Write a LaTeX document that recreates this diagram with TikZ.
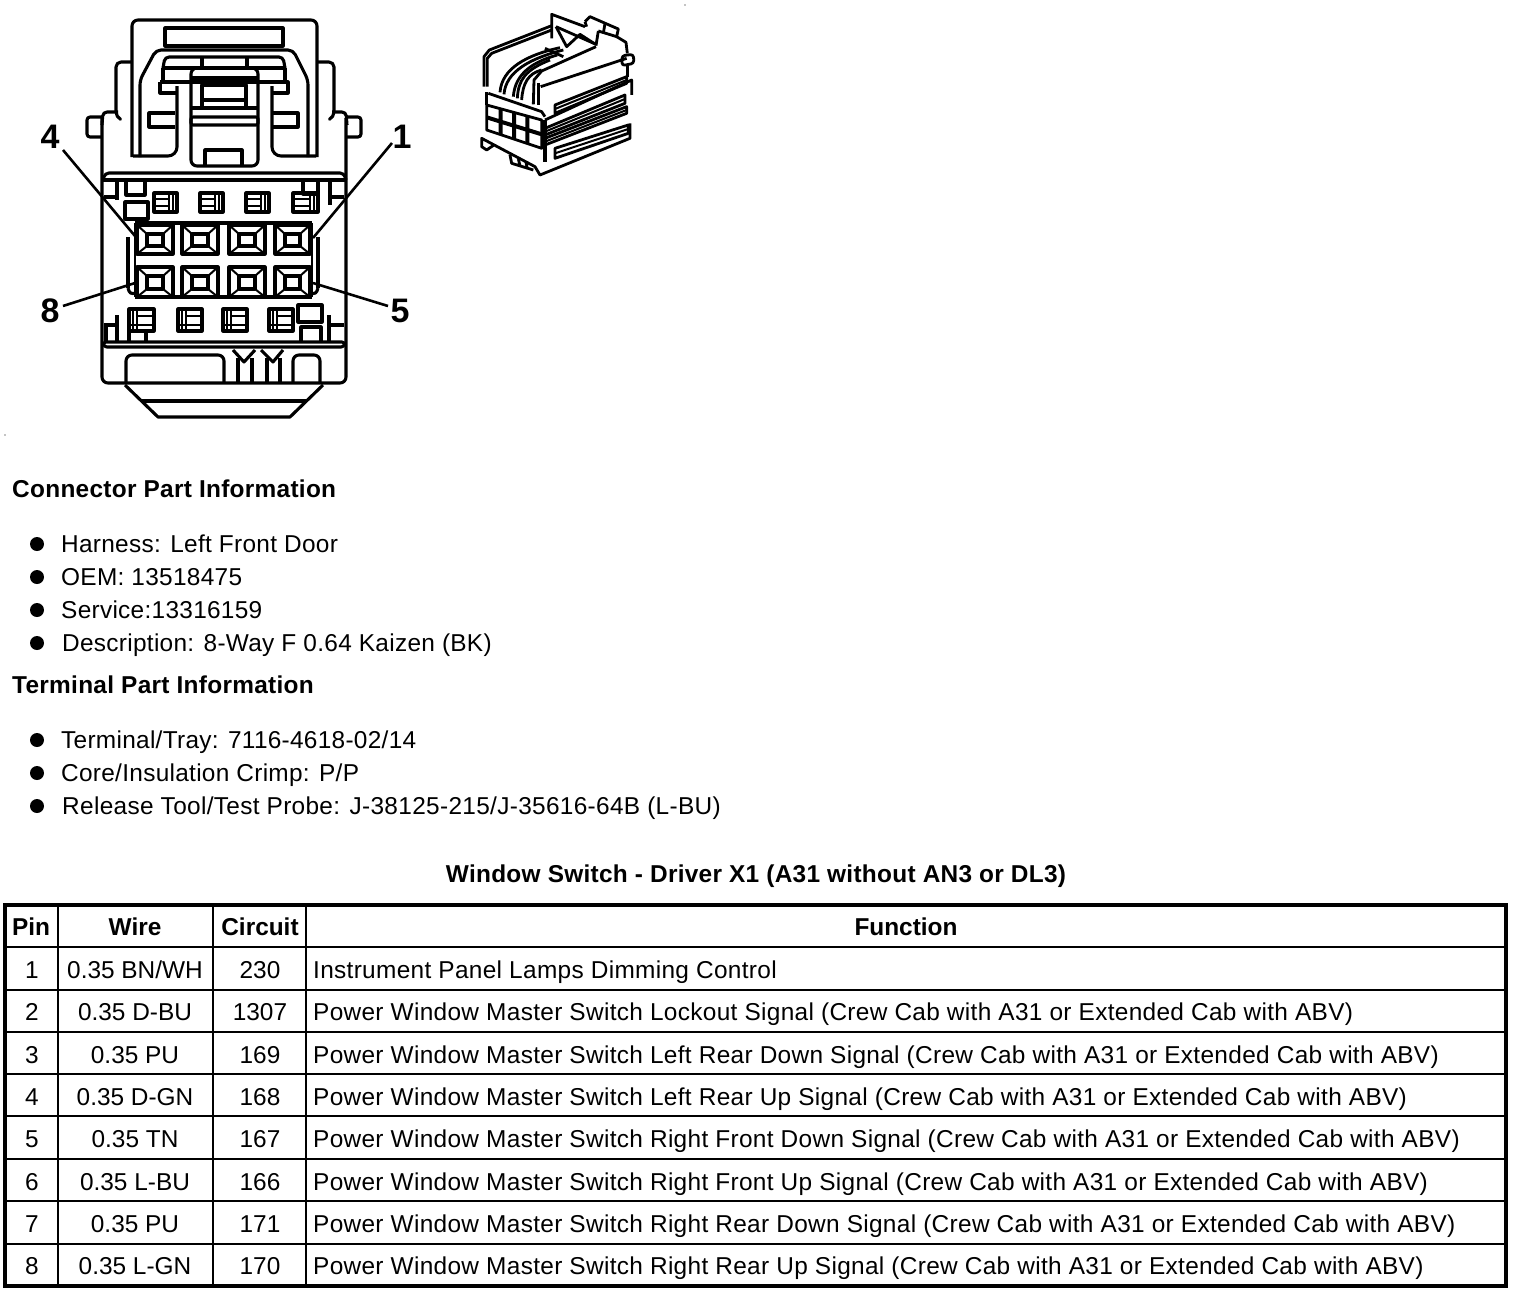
\documentclass[tikz,border=0pt]{standalone}
\usepackage{fontspec}
\setmainfont{Liberation Sans}
\newcommand{\wideltr}{\addfontfeature{LetterSpace=1.2}}
\newcommand{\widerltr}{\addfontfeature{LetterSpace=1.32}}
\tikzset{
 txt/.style={inner sep=0pt,font=\fontsize{24.4}{26}\selectfont\wideltr,anchor=base west},
 fnc/.style={inner sep=0pt,font=\fontsize{24.4}{26}\selectfont\widerltr,anchor=base west},
 ctr/.style={inner sep=0pt,font=\fontsize{24.4}{26}\selectfont,anchor=base},
 hd/.style={inner sep=0pt,font=\fontsize{24.4}{26}\selectfont\bfseries,anchor=base},
 hdl/.style={inner sep=0pt,font=\fontsize{24.4}{26}\selectfont\bfseries\wideltr,anchor=base west},
 num/.style={inner sep=0pt,font=\fontsize{34}{36}\selectfont\bfseries},
 bul/.style={circle,fill=black,inner sep=0pt,minimum size=14pt},
 ln/.style={line width=3.1pt,line join=round},
 thin/.style={line width=2pt,line join=miter},
 lead/.style={line width=2.6pt},
 tb/.style={line width=2.2pt},
 tbo/.style={line width=3.6pt}
}
\begin{document}
\begin{tikzpicture}[x=1pt,y=-1pt]
\useasboundingbox (0,0) rectangle (1520,1294);
\fill[white] (0,0) rectangle (1520,1294);
% ---------- connector front view
\begin{scope}[ln]
\draw[rounded corners=6pt] (132,157)--(132,20)--(317,20)--(317,157);
\draw (165,28) rectangle (283,46);
\draw[rounded corners=5pt] (140,157)--(140,80)--(156,50)--(293,50)--(308,80)--(308,157);
\draw[rounded corners=4pt] (163,68)--(165,57)--(283,57)--(285,68);
\draw (163,68)--(285,68) (202,57)--(202,68) (247,57)--(247,68);
\draw (163,68)--(163,82) (285,68)--(285,82);
\draw (160,82)--(288,82)--(288,93)--(272,93) (160,82)--(160,93)--(177,93);
\draw[rounded corners=9pt] (177,86)--(177,156)--(133,156);
\draw[rounded corners=9pt] (272,86)--(272,156)--(316,156);
\draw (175,113)--(149,113)--(149,127)--(175,127);
\draw (272,113)--(298,113)--(298,127)--(272,127);
\draw[rounded corners=6pt] (191,68)--(191,166)--(258,166)--(258,68)--cycle;
\draw (191,78)--(258,78);
\draw (202,85) rectangle (246,108);
\draw (202,100)--(246,100) (191,108)--(258,108);
\draw[rounded corners=2pt] (191,125)--(191,117)--(258,117)--(258,125)--cycle;
\draw (205,166)--(205,150)--(242,150)--(242,166);
% ears
\draw[rounded corners=5pt] (132,62)--(116,62)--(116,117)--(120,119);
\draw[rounded corners=5pt] (317,62)--(334,62)--(334,117)--(330,119);
\draw[rounded corners=4pt] (118,112)--(103,112)--(102,125);
\draw[rounded corners=4pt] (332,112)--(346,112)--(347,125);
\draw[rounded corners=3pt] (102,117)--(87,117)--(87,137)--(102,137);
\draw[rounded corners=3pt] (347,117)--(361,117)--(361,137)--(347,137);
% body
\draw[rounded corners=6pt] (102,118)--(102,383)--(346,383)--(346,118);
\draw[rounded corners=4pt] (103,180)--(105,173)--(344,173)--(346,180);
\draw (103,180)--(346,180);
\draw (117,180)--(117,200) (104,197)--(117,197);
\draw (126,180)--(126,195)--(145,195)--(145,180);
\draw (125,202) rectangle (148,219);
\draw (330,181)--(330,205) (330,197)--(344,197);
\draw (303,180)--(303,194)--(318,194)--(318,180);
\end{scope}
% small icons upper
\foreach \x/\w in {154/23,200/23,246/23,293/25}{
 \draw[ln] (\x,193) rectangle ++(\w,19);
 \draw[thin] (\x,199)--++(\w-8,0) (\x,206)--++(\w-8,0) (\x+\w-8,193)--++(0,19) (\x+\w-4,193)--++(0,19);
}
% small icons lower
\foreach \x/\w in {129/25,178/24,223/24,269/24}{
 \draw[ln] (\x,309) rectangle ++(\w,22);
 \draw[thin] (\x+8,309)--++(0,22) (\x+4,309)--++(0,22) (\x+8,316)--++(\w-8,0) (\x,325)--++(\w,0);
}
\begin{scope}[ln]
\draw (298,305) rectangle (322,322);
\draw (301,342)--(301,327)--(321,327)--(321,342);
\draw (129,331)--(129,342) (146,331)--(146,342);
\draw (117,315)--(117,342) (104,325)--(117,325) (106,325)--(106,342);
\draw (329,315)--(329,342) (329,325)--(344,325);
\draw[rounded corners=3pt] (103,342)--(345,342)--(344,347)--(104,347)--cycle;
\draw[rounded corners=6pt] (126,383)--(126,355)--(224,355)--(224,383);
\draw[rounded corners=6pt] (293,383)--(293,355)--(320,355)--(320,383);
\draw (238,358)--(238,383) (252,358)--(252,383) (267,358)--(267,383) (280,358)--(280,383);
\draw (233,350)--(244,362)--(255,350) (261,350)--(273,362)--(283,350);
\draw (125,385)--(158,417)--(290,417)--(323,385);
\draw (141,401)--(307,401);
\end{scope}
% cavity frame
\draw[ln] (135,223)--(312,223) (135,297)--(312,297);
\draw[thin] (135,223)--(135,297) (312,223)--(312,297);
\draw[ln] (128,237)--(128,288) (318,237)--(318,288);
\draw[ln,rounded corners=3pt] (128,288)--(130,294)--(136,293);
\draw[ln,rounded corners=3pt] (318,288)--(316,294)--(310,293);
% cavities
\foreach \x/\xb in {137/173,182/218,229/265,275/310}{
 \foreach \y/\yb in {225/254,267/297}{
  \draw[ln] (\x,\y) rectangle (\xb,\yb);
  \draw[ln] (\x+10,\y+9) rectangle (\xb-10,\yb-8);
  \draw[thin] (\x,\y)--(\x+10,\y+9) (\xb,\y)--(\xb-10,\y+9) (\x,\yb)--(\x+10,\yb-8) (\xb,\yb)--(\xb-10,\yb-8);
 }
}
% ---------- pin numbers and leaders
\node[num] (n4) at (50,137) {4};
\node[num] (n1) at (402,137) {1};
\node[num] (n8) at (50,311) {8};
\node[num] (n5) at (400,311) {5};
\coordinate (c4) at (135,236);
\coordinate (c1) at (313,238);
\coordinate (c8) at (135,283);
\coordinate (c5) at (313,283);
\draw[lead] (63,150)--(c4);
\draw[lead] (392,143)--(c1);
\draw[lead] (63,306)--(c8);
\draw[lead] (388,306)--(c5);
% ---------- isometric view
\begin{scope}[shift={(470,5)},x=0.3333pt,y=-0.3333pt,line width=2.8pt,line join=round]
% hood
\draw (42,245)--(42,155)--(58,135)--(245,62);
\draw (52,245)--(52,160)--(65,145)--(245,75);
\draw (245,100)--(245,28)--(345,65);
\draw (258,65)--(378,118);
\draw (345,50)--(360,35)--(445,72)--(440,95)--(385,78);
\draw (345,50)--(350,65) (405,55)--(400,85) (385,78)--(378,122);
\draw (440,95)--(468,112)--(472,145);
\draw[rounded corners=3pt] (456,152)--(490,148)--(492,175)--(456,182)--cycle;
\draw (472,182)--(472,215);
% arches
\draw (90,262) .. controls (95,190) and (170,150) .. (270,128);
\draw (102,268) .. controls (107,200) and (180,160) .. (280,135);
\draw (130,275) .. controls (135,205) and (190,170) .. (262,150);
\draw (142,280) .. controls (145,225) and (165,195) .. (240,165);
\draw (155,285) .. controls (158,235) and (175,205) .. (215,195);
\draw (190,298)--(192,225)--(215,198)--(378,125);
\draw (205,300)--(205,235);
\draw (212,245)--(470,160);
\draw (258,65)--(290,125)--(330,88)--(372,115);
\draw (225,130)--(280,155);
% keypad
\draw (55,265)--(215,320)--(225,335);
\draw (50,300)--(215,345)--(215,430)--(50,375)--cycle;
\draw[line width=4pt] (50,337)--(215,388) (92,312)--(92,390) (132,323)--(132,402) (172,334)--(172,416);
\draw (50,300)--(50,262);
% right side
\draw (225,345)--(485,225)--(485,270);
\draw (255,300)--(470,215)--(470,235)--(255,325)--cycle;
\draw[line width=2pt] (255,312)--(470,225);
\draw (225,370)--(465,270)--(465,295)--(225,390)--cycle;
\draw[line width=2pt] (225,380)--(465,282);
\draw (225,400)--(470,305)--(470,325)--(225,420)--cycle;
\draw[line width=2pt] (225,410)--(470,315);
\draw (255,430)--(475,360)--(475,385)--(255,460)--cycle;
\draw[line width=2pt] (255,445)--(475,372);
\draw[line width=4pt] (225,345)--(225,470);
\draw (480,355)--(480,400)--(210,510)--(195,485)--(35,400)--(35,425)--(50,435)--(72,420);
\draw (120,450)--(125,475)--(190,495) (145,462)--(150,482) (168,472)--(172,490);
\end{scope}
% ---------- specks
\fill (685,5) circle (0.7pt);
\fill (5,435) circle (0.7pt);
% ---------- information text
\node[hdl] (t1) at (12,497) {Connector Part Information};
\node[bul] (b1) at (37,544) {}; \node[txt] (l1) at (61,552) {Harness: Left Front Door};
\node[bul] (b2) at (37,577) {}; \node[txt] (l2) at (61,585) {OEM: 13518475};
\node[bul] (b3) at (37,610) {}; \node[txt] (l3) at (61,618) {Service:13316159};
\node[bul] (b4) at (37,643) {}; \node[txt] (l4) at (62,651) {Description: 8-Way F 0.64 Kaizen (BK)};
\node[hdl] (t2) at (12,693) {Terminal Part Information};
\node[bul] (b5) at (37,740) {}; \node[txt] (l5) at (61,748) {Terminal/Tray: 7116-4618-02/14};
\node[bul] (b6) at (37,773) {}; \node[txt] (l6) at (61,781) {Core/Insulation Crimp: P/P};
\node[bul] (b7) at (37,806) {}; \node[fnc] (l7) at (62,814) {Release Tool/Test Probe: J-38125-215/J-35616-64B (L-BU)};
\node[hd,font=\fontsize{24.4}{26}\selectfont\bfseries\wideltr] (title) at (756,882) {Window Switch - Driver X1 (A31 without AN3 or DL3)};
% ---------- table
\draw[tbo] (5,905) rectangle (1506,1286);
\foreach \y in {947,990,1032,1074,1116,1159,1201,1244} \draw[tb] (5,\y)--(1506,\y);
\foreach \x in {58,213,306} \draw[tb] (\x,905)--(\x,1286);
\node[hd] (hp) at (31,935) {Pin};
\node[hd] (hw) at (135,935) {Wire};
\node[hd] (hc) at (260,935) {Circuit};
\node[hd] (hf) at (906,935) {Function};
\foreach \i/\y/\w/\c/\f in {
 1/978/{0.35 BN/WH}/230/Instrument Panel Lamps Dimming Control,
 2/1020/0.35 D-BU/1307/Power Window Master Switch Lockout Signal (Crew Cab with A31 or Extended Cab with ABV),
 3/1063/0.35 PU/169/Power Window Master Switch Left Rear Down Signal (Crew Cab with A31 or Extended Cab with ABV),
 4/1105/0.35 D-GN/168/Power Window Master Switch Left Rear Up Signal (Crew Cab with A31 or Extended Cab with ABV),
 5/1147/0.35 TN/167/Power Window Master Switch Right Front Down Signal (Crew Cab with A31 or Extended Cab with ABV),
 6/1190/0.35 L-BU/166/Power Window Master Switch Right Front Up Signal (Crew Cab with A31 or Extended Cab with ABV),
 7/1232/0.35 PU/171/Power Window Master Switch Right Rear Down Signal (Crew Cab with A31 or Extended Cab with ABV),
 8/1274/0.35 L-GN/170/Power Window Master Switch Right Rear Up Signal (Crew Cab with A31 or Extended Cab with ABV)}{
 \node[ctr] (p\i) at (32,\y) {\i};
 \node[ctr] (w\i) at (135,\y) {\w};
 \node[ctr] (c\i) at (260,\y) {\c};
 \node[fnc] (f\i) at (313,\y) {\f};
}
\end{tikzpicture}
\end{document}
